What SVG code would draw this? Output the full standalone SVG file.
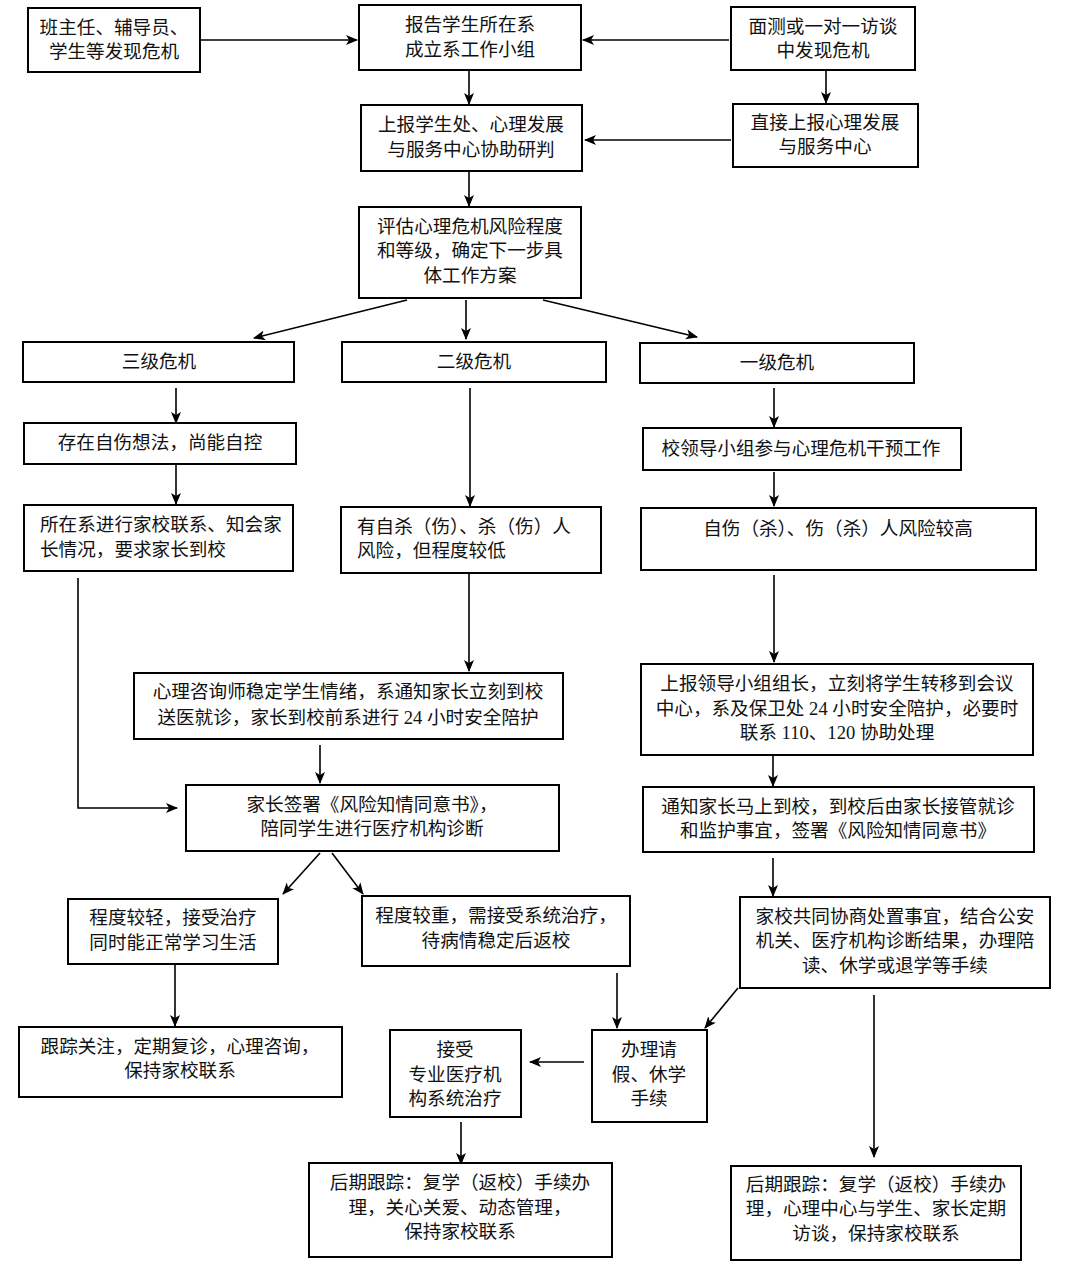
<svg xmlns="http://www.w3.org/2000/svg" width="1066" height="1267" viewBox="0 0 1066 1267">
<style>
.b{fill:#fff;stroke:#000;stroke-width:2}
text{font-family:"Liberation Serif","Noto Sans CJK SC",serif;font-size:18.6px;fill:#111}
.c{text-anchor:middle}
.l{stroke:#000;stroke-width:1.6;fill:none;marker-end:url(#a)}
</style>
<defs>
<marker id="a" markerUnits="userSpaceOnUse" markerWidth="12" markerHeight="12" viewBox="0 0 12 12" refX="11" refY="6" orient="auto">
<path d="M0,1 L12,6 L0,11 L3,6 z" fill="#000"/>
</marker>
</defs>
<rect width="1066" height="1267" fill="#fff"/>
<g id="connectors">
<line class="l" x1="200" y1="40" x2="357" y2="40"/>
<line class="l" x1="729" y1="40" x2="583" y2="40"/>
<line class="l" x1="469" y1="71" x2="469" y2="104"/>
<line class="l" x1="826" y1="71" x2="826" y2="103"/>
<line class="l" x1="731" y1="140" x2="585" y2="140"/>
<line class="l" x1="469" y1="172" x2="469" y2="206"/>
<line class="l" x1="407" y1="300" x2="254" y2="338"/>
<line class="l" x1="466" y1="300" x2="466" y2="339"/>
<line class="l" x1="543" y1="300" x2="697" y2="337"/>
<line class="l" x1="176" y1="388" x2="176" y2="423"/>
<line class="l" x1="774" y1="388" x2="774" y2="427"/>
<line class="l" x1="470" y1="388" x2="470" y2="506"/>
<line class="l" x1="176" y1="465" x2="176" y2="504"/>
<line class="l" x1="774" y1="472" x2="774" y2="506"/>
<polyline class="l" points="78,578 78,808 177,808"/>
<line class="l" x1="469" y1="574" x2="469" y2="671"/>
<line class="l" x1="774" y1="575" x2="774" y2="662"/>
<line class="l" x1="320" y1="745" x2="320" y2="783"/>
<line class="l" x1="773" y1="756" x2="773" y2="786"/>
<line class="l" x1="320" y1="853" x2="283" y2="894"/>
<line class="l" x1="332" y1="853" x2="363" y2="894"/>
<line class="l" x1="773" y1="858" x2="773" y2="896"/>
<line class="l" x1="175" y1="965" x2="175" y2="1026"/>
<line class="l" x1="617" y1="973" x2="617" y2="1028"/>
<line class="l" x1="738" y1="988" x2="705" y2="1028"/>
<line class="l" x1="874" y1="995" x2="874" y2="1157"/>
<line class="l" x1="584" y1="1062" x2="530" y2="1062"/>
<line class="l" x1="461" y1="1122" x2="461" y2="1164"/>
</g>
<g id="n1"><rect class="b" x="28" y="8" width="172" height="64"/><text class="c" x="114" y="34">班主任、辅导员、</text><text class="c" x="114" y="58">学生等发现危机</text></g>
<g id="n2"><rect class="b" x="359" y="5" width="222" height="65"/><text class="c" x="470" y="31">报告学生所在系</text><text class="c" x="470" y="56">成立系工作小组</text></g>
<g id="n3"><rect class="b" x="731" y="7" width="184" height="63"/><text class="c" x="823" y="33">面测或一对一访谈</text><text class="c" x="823" y="57">中发现危机</text></g>
<g id="n4"><rect class="b" x="361" y="105" width="221" height="66"/><text class="c" x="471" y="131">上报学生处、心理发展</text><text class="c" x="471" y="156">与服务中心协助研判</text></g>
<g id="n5"><rect class="b" x="733" y="104" width="185" height="63"/><text class="c" x="825" y="129">直接上报心理发展</text><text class="c" x="825" y="153">与服务中心</text></g>
<g id="n6"><rect class="b" x="359" y="207" width="222" height="91"/><text class="c" x="470" y="233">评估心理危机风险程度</text><text class="c" x="470" y="257">和等级，确定下一步具</text><text class="c" x="470" y="282">体工作方案</text></g>
<g id="n7"><rect class="b" x="23" y="342" width="271" height="40"/><text class="c" x="159" y="368">三级危机</text></g>
<g id="n8"><rect class="b" x="342" y="342" width="264" height="40"/><text class="c" x="474" y="368">二级危机</text></g>
<g id="n9"><rect class="b" x="640" y="343" width="274" height="40"/><text class="c" x="777" y="369">一级危机</text></g>
<g id="n10"><rect class="b" x="24" y="423" width="272" height="41"/><text class="c" x="160" y="449">存在自伤想法，尚能自控</text></g>
<g id="n11"><rect class="b" x="643" y="428" width="318" height="42"/><text class="c" x="801" y="455">校领导小组参与心理危机干预工作</text></g>
<g id="n12"><rect class="b" x="24" y="505" width="269" height="66"/><text x="40" y="531">所在系进行家校联系、知会家</text><text x="40" y="556">长情况，要求家长到校</text></g>
<g id="n13"><rect class="b" x="341" y="507" width="260" height="66"/><text x="357" y="533">有自杀（伤）、杀（伤）人</text><text x="357" y="557">风险，但程度较低</text></g>
<g id="n14"><rect class="b" x="641" y="508" width="395" height="62"/><text class="c" x="838" y="535">自伤（杀）、伤（杀）人风险较高</text></g>
<g id="n15"><rect class="b" x="134" y="673" width="429" height="66"/><text class="c" x="348" y="698">心理咨询师稳定学生情绪，系通知家长立刻到校</text><text class="c" x="348" y="724">送医就诊，家长到校前系进行 24 小时安全陪护</text></g>
<g id="n16"><rect class="b" x="641" y="664" width="392" height="91"/><text class="c" x="837" y="690">上报领导小组组长，立刻将学生转移到会议</text><text class="c" x="837" y="715">中心，系及保卫处 24 小时安全陪护，必要时</text><text class="c" x="837" y="739">联系 110、120 协助处理</text></g>
<g id="n17"><rect class="b" x="186" y="785" width="373" height="66"/><text class="c" x="372" y="811">家长签署《风险知情同意书》，</text><text class="c" x="372" y="835">陪同学生进行医疗机构诊断</text></g>
<g id="n18"><rect class="b" x="643" y="787" width="391" height="65"/><text class="c" x="838" y="813">通知家长马上到校，到校后由家长接管就诊</text><text class="c" x="838" y="837">和监护事宜，签署《风险知情同意书》</text></g>
<g id="n19"><rect class="b" x="68" y="899" width="210" height="65"/><text class="c" x="173" y="924">程度较轻，接受治疗</text><text class="c" x="173" y="949">同时能正常学习生活</text></g>
<g id="n20"><rect class="b" x="362" y="896" width="268" height="70"/><text class="c" x="496" y="922">程度较重，需接受系统治疗，</text><text class="c" x="496" y="947">待病情稳定后返校</text></g>
<g id="n21"><rect class="b" x="740" y="897" width="310" height="91"/><text class="c" x="895" y="923">家校共同协商处置事宜，结合公安</text><text class="c" x="895" y="947">机关、医疗机构诊断结果，办理陪</text><text class="c" x="895" y="972">读、休学或退学等手续</text></g>
<g id="n22"><rect class="b" x="19" y="1027" width="323" height="70"/><text class="c" x="180" y="1053">跟踪关注，定期复诊，心理咨询，</text><text class="c" x="180" y="1077">保持家校联系</text></g>
<g id="n23"><rect class="b" x="390" y="1030" width="131" height="87"/><text class="c" x="455" y="1056">接受</text><text class="c" x="455" y="1081">专业医疗机</text><text class="c" x="455" y="1105">构系统治疗</text></g>
<g id="n24"><rect class="b" x="592" y="1030" width="115" height="92"/><text class="c" x="649" y="1056">办理请</text><text class="c" x="649" y="1081">假、休学</text><text class="c" x="649" y="1105">手续</text></g>
<g id="n25"><rect class="b" x="309" y="1163" width="303" height="94"/><text class="c" x="460" y="1189">后期跟踪：复学（返校）手续办</text><text class="c" x="460" y="1214">理，关心关爱、动态管理，</text><text class="c" x="460" y="1238">保持家校联系</text></g>
<g id="n26"><rect class="b" x="731" y="1166" width="290" height="94"/><text class="c" x="876" y="1191">后期跟踪：复学（返校）手续办</text><text class="c" x="876" y="1215">理，心理中心与学生、家长定期</text><text class="c" x="876" y="1240">访谈，保持家校联系</text></g>
</svg>
